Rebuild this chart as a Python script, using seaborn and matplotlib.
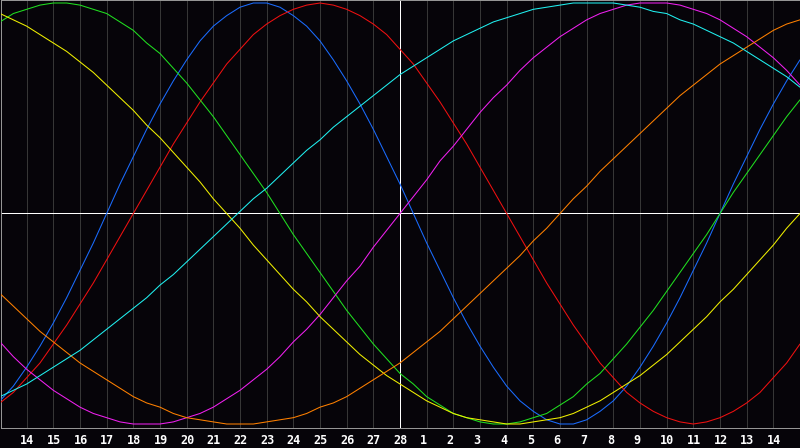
import pandas as pd
import seaborn as sns
import matplotlib.pyplot as plt
from matplotlib.transforms import offset_copy

# half-day steps from left edge (0 = the 13th, 30 = the 15th of next month)
day = [i / 2 for i in range(61)]
day_labels = [str(d) for d in range(14, 29)] + [str(d) for d in range(1, 15)]

# cycle values in percent, every half day
physical = [-89, -82, -73, -63, -52, -40, -27, -14, 0, 14, 27, 40, 52, 63, 73, 82,
            89, 94, 98, 100, 100, 98, 94, 89, 82, 73, 63, 52, 40, 27, 14, 0,
            -14, -27, -40, -52, -63, -73, -82, -89, -94, -98, -100, -100, -98, -94,
            -89, -82, -73, -63, -52, -40, -27, -14, 0, 14, 27, 40, 52, 63, 73]
emotional = [-90, -85, -78, -71, -62, -53, -43, -33, -22, -11, 0, 11, 22, 33, 43, 53,
             62, 71, 78, 85, 90, 94, 97, 99, 100, 99, 97, 94, 90, 85, 78, 71,
             62, 53, 43, 33, 22, 11, 0, -11, -22, -33, -43, -53, -62, -71,
             -78, -85, -90, -94, -97, -99, -100, -99, -97, -94, -90, -85, -78, -71, -62]
intellectual = [91, 95, 97, 99, 100, 100, 99, 97, 95, 91, 87, 81, 76, 69, 62, 54,
                46, 37, 28, 19, 10, 0, -10, -19, -28, -37, -46, -54, -62, -69, -76, -81,
                -87, -91, -95, -97, -99, -100, -100, -99, -97, -95, -91, -87, -81, -76,
                -69, -62, -54, -46, -37, -28, -19, -10, 0, 10, 19, 28, 37, 46, 54]
intuitive = [-61, -68, -74, -79, -84, -88, -92, -95, -97, -99, -100, -100, -100, -99, -97, -95,
             -92, -88, -84, -79, -74, -68, -61, -55, -48, -40, -32, -25, -16, -8, 0, 8,
             16, 25, 32, 40, 48, 55, 61, 68, 74, 79, 84, 88, 92, 95,
             97, 99, 100, 100, 100, 99, 97, 95, 92, 88, 84, 79, 74, 68, 61]
aesthetic = [95, 92, 89, 85, 81, 77, 72, 67, 61, 55, 49, 42, 36, 29, 22, 15,
             7, 0, -7, -15, -22, -29, -36, -42, -49, -55, -61, -67, -72, -77, -81, -85,
             -89, -92, -95, -97, -98, -99, -100, -100, -99, -98, -97, -95, -92, -89,
             -85, -81, -77, -72, -67, -61, -55, -49, -42, -36, -29, -22, -15, -7, 0]
awareness = [-38, -44, -50, -56, -61, -66, -71, -75, -79, -83, -87, -90, -92, -95, -97, -98,
             -99, -100, -100, -100, -99, -98, -97, -95, -92, -90, -87, -83, -79, -75, -71, -66,
             -61, -56, -50, -44, -38, -32, -26, -20, -13, -7, 0, 7, 13, 20,
             26, 32, 38, 44, 50, 56, 61, 66, 71, 75, 79, 83, 87, 90, 92]
spiritual = [-87, -84, -81, -77, -73, -69, -65, -60, -55, -50, -45, -40, -34, -29, -23, -17,
             -11, -5, 1, 7, 12, 18, 24, 30, 35, 41, 46, 51, 56, 61, 66, 70,
             74, 78, 82, 85, 88, 91, 93, 95, 97, 98, 99, 100, 100, 100,
             100, 99, 98, 96, 95, 92, 90, 87, 84, 81, 77, 73, 69, 65, 60]

palette = {
    "physical": "#1a6cff",
    "emotional": "#f01010",
    "intellectual": "#20e020",
    "intuitive": "#f020f0",
    "aesthetic": "#f0f000",
    "awareness": "#ff8000",
    "spiritual": "#20f0f0",
}

df = pd.DataFrame({
    "day": day,
    "physical": physical,
    "emotional": emotional,
    "intellectual": intellectual,
    "intuitive": intuitive,
    "aesthetic": aesthetic,
    "awareness": awareness,
    "spiritual": spiritual,
}).melt(id_vars="day", var_name="cycle", value_name="value")

sns.set_style("dark")
bg = "#060409"

W, H = 800, 448
fig = plt.figure(figsize=(W / 100, H / 100), dpi=100, facecolor=bg)
# plot box from pixel 0.5 to 799.5 across and 0.5 to 427.5 down
ax = fig.add_axes([0.5 / W, (H - 427.5) / H, 799 / W, 427 / H])
ax.set_facecolor(bg)

px_per_day = W / 30
center, amp = 213.5, 2.105
ax.set_xlim(0.5 / px_per_day, 799.5 / px_per_day)
ax.set_ylim((center - 427.5) / amp, (center - 0.5) / amp)

# day grid
ax.vlines([d for d in range(1, 30) if d != 15], -110, 110, color="#363636",
          linewidth=0.7, antialiased=False, zorder=1)
ax.axvline(15, color="white", linewidth=0.7, antialiased=False, zorder=1.5)
ax.axhline(0, color="white", linewidth=0.7, antialiased=False, zorder=1.5)

sns.lineplot(data=df, x="day", y="value", hue="cycle", palette=palette,
             estimator=None, sort=False, legend=False, linewidth=0.75,
             ax=ax, zorder=3)

ax.set_xticks([])
ax.set_yticks([])
ax.set_xlabel("")
ax.set_ylabel("")
ax.grid(False)
for s in ax.spines.values():
    s.set_visible(True)
    s.set_color("#9a9a9a")
    s.set_linewidth(0.7)

lab_tr = offset_copy(ax.get_xaxis_transform(), fig=fig, x=-6.5, y=-16, units="dots")
for i, lab in enumerate(day_labels, start=1):
    ax.text(i, 0, lab, transform=lab_tr, ha="left", va="baseline",
            color="white", fontsize=8.5, fontweight="bold",
            family="DejaVu Sans Mono")

fig.savefig("out.png", dpi=100, facecolor=bg)
